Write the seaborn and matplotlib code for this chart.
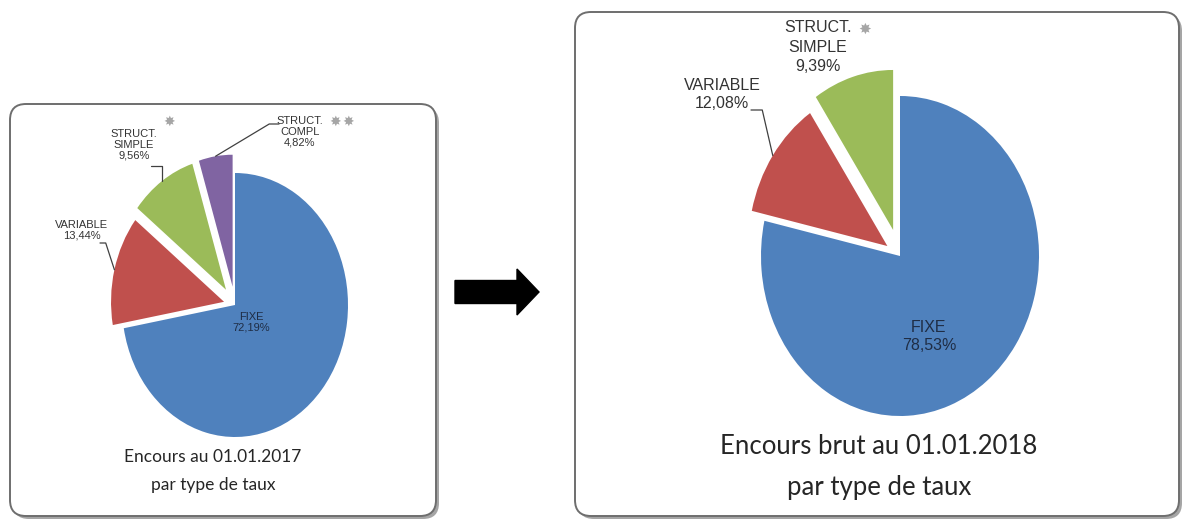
import numpy as np
import seaborn as sns
import matplotlib
matplotlib.use("Agg")
import matplotlib.pyplot as plt
from matplotlib.patches import FancyBboxPatch, FancyArrow, ConnectionPatch

# data
labels_2017 = ["FIXE", "VARIABLE", "STRUCT.\nSIMPLE", "STRUCT.\nCOMPL"]
values_2017 = [72.19, 13.44, 9.56, 4.82]
labels_2018 = ["FIXE", "VARIABLE", "STRUCT.\nSIMPLE"]
values_2018 = [78.53, 12.08, 9.39]
slice_colors = ["#4F81BD", "#C0504D", "#9BBB59", "#8064A2"]
title_2017 = "Encours au 01.01.2017\npar type de taux"
title_2018 = "Encours brut au 01.01.2018\npar type de taux"

sns.set_theme(style="white")
plt.rcParams["font.family"] = ["Liberation Sans Narrow", "Liberation Sans", "DejaVu Sans"]
palette = sns.color_palette(slice_colors)

W, H = 1184, 521
fig = plt.figure(figsize=(W / 100, H / 100), dpi=100)
fig.patch.set_facecolor("white")

# background axes in pixel units for the panels, arrow and titles
bg = fig.add_axes([0, 0, 1, 1])
bg.set_xlim(0, W)
bg.set_ylim(H, 0)
bg.axis("off")

def panel(x0, y0, x1, y1):
    shadow = FancyBboxPatch((x0 + 3, y0 + 3), x1 - x0, y1 - y0,
                            boxstyle="round,pad=0,rounding_size=16",
                            fc="#a5a5a5", ec="none", zorder=0)
    box = FancyBboxPatch((x0, y0), x1 - x0, y1 - y0,
                         boxstyle="round,pad=0,rounding_size=16",
                         fc="white", ec="#6e6e6e", lw=1.4, zorder=1)
    bg.add_patch(shadow)
    bg.add_patch(box)

panel(10, 104, 436, 516)
panel(575, 12, 1179, 516)

bg.add_patch(FancyArrow(455, 292, 84, 0, width=23, head_width=46, head_length=22,
                        length_includes_head=True, fc="black", ec="black", zorder=2))

bg.text(213, 471, title_2017, ha="center", va="center", fontsize=12.5,
        family=["Lato", "DejaVu Sans"], color="#262626", linespacing=1.85, zorder=3)
bg.text(879, 467, title_2018, ha="center", va="center", fontsize=18.5,
        family=["Lato", "DejaVu Sans"], color="#262626", linespacing=1.85, zorder=3)


def pct(v):
    return f"{v:.2f}".replace(".", ",") + "%"


def draw_pie(values, explode, cx, cy, rx, ry):
    ax = fig.add_axes([0, 0, 1, 1])
    ax.patch.set_alpha(0)
    wedges, _ = ax.pie(values, colors=palette[:len(values)], explode=explode,
                       startangle=90, counterclock=False,
                       wedgeprops=dict(linewidth=0))
    ax.set_aspect("auto")
    ax.set_xlim(-cx / rx, (W - cx) / rx)
    ax.set_ylim((cy - H) / ry, cy / ry)
    ax.axis("off")
    return ax, wedges


def edge_point(w):
    a = np.deg2rad((w.theta1 + w.theta2) / 2)
    return w.center[0] + w.r * np.cos(a), w.center[1] + w.r * np.sin(a)


def label(ax, text, pos, size, ls, color="#333333"):
    ax.text(pos[0], pos[1], text, transform=bg.transData, ha="center", va="center",
            fontsize=size, color=color, linespacing=ls)


def leader(ax, w, start, angA, angB):
    con = ConnectionPatch(xyA=start, coordsA=bg.transData,
                          xyB=edge_point(w), coordsB=ax.transData,
                          arrowstyle="-", color="#404040", lw=0.9,
                          shrinkA=0, shrinkB=0,
                          connectionstyle=f"angle,angleA={angA},angleB={angB},rad=0")
    ax.add_artist(con)


# 2017 pie
ax1, w1 = draw_pie(values_2017, [0, 0.1, 0.14, 0.14], 235, 305, 113, 132)
label(ax1, f"{labels_2017[0]}\n{pct(values_2017[0])}", (251, 322), 8, 1.12, "#1f2d45")
label(ax1, f"{labels_2017[1]}\n{pct(values_2017[1])}", (82, 230), 8, 1.12)
label(ax1, f"{labels_2017[2]}\n{pct(values_2017[2])}", (134, 145), 8, 1.12)
label(ax1, f"{labels_2017[3]}\n{pct(values_2017[3])}", (300, 132), 8, 1.12)
leader(ax1, w1[1], (100, 243), 0, -72)
leader(ax1, w1[2], (151, 166), 0, 90)
leader(ax1, w1[3], (279, 124), 180, 31)

# 2018 pie
ax2, w2 = draw_pie(values_2018, [0, 0.11, 0.17], 900, 256, 139, 160)
label(ax2, f"{labels_2018[0]}\n{pct(values_2018[0])}", (929, 337), 11.5, 1.25, "#1f2d45")
label(ax2, f"{labels_2018[1]}\n{pct(values_2018[1])}", (722, 95), 11.5, 1.25)
label(ax2, f"{labels_2018[2]}\n{pct(values_2018[2])}", (818, 47), 11.5, 1.35)
leader(ax2, w2[1], (751, 110), 0, -77)

# grey star marks next to the structured labels
for gx, gy, s in [(169, 122, 10), (335, 122, 10), (348, 122, 10), (865, 29, 11)]:
    ax2.text(gx, gy, "\u2738", transform=bg.transData, ha="center", va="center",
             fontsize=s, color="#a6a6a6", family="DejaVu Sans")

fig.savefig("out.png", dpi=100)
